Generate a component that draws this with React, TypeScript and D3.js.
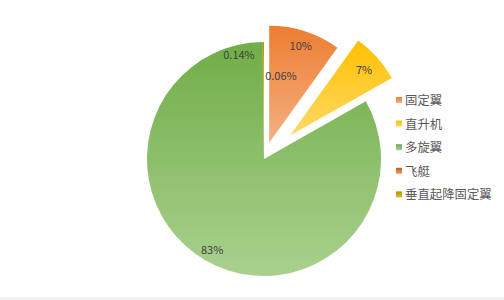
import React from "react";
import * as d3 from "d3";

const categories = ["固定翼", "直升机", "多旋翼", "飞艇", "垂直起降固定翼"];
const values = [9.9, 6.9, 83.0, 0.06, 0.14];
const labels = ["10%", "7%", "83%", "0.06%", "0.14%"];

const colorTop = ["#ED7D31", "#FFC000", "#70AD47", "#C55A11", "#BF9000"];
const colorBottom = ["#F4B183", "#FFD966", "#A9D18E", "#E8A071", "#E0B830"];
const explode = [17, 35, 0, 0, 0];
const labelAngleShift = [0, 0, 0, 0.21, -0.23];
const labelRadiusFactor = [0.88, 0.85, 0.89, 0.73, 0.92];

export default function App() {
  const W = 504, H = 300;
  const cx = 264, cy = 159, r = 117;
  const pie = d3.pie<number>().sort(null).value((d) => d);
  const arcs = pie(values);
  const arcGen = d3.arc<d3.PieArcDatum<number>>().innerRadius(0).outerRadius(r);

  return (
    <svg width={W} height={H} style={{ position: "absolute", left: 0, top: 0 }}
      fontFamily="'Noto Sans CJK SC', 'Noto Sans', sans-serif">
      <defs>
        {categories.map((c, i) => (
          <linearGradient key={c} id={`g${i}`} x1="0" y1="0" x2="0" y2="1">
            <stop offset="0" stopColor={colorTop[i]} />
            <stop offset="1" stopColor={colorBottom[i]} />
          </linearGradient>
        ))}
      </defs>
      <rect x={0} y={0} width={W} height={H} fill="#fff" />
      <rect x={0} y={297} width={W} height={3} fill="#F2F2F2" />
      {arcs.map((a, i) => {
        const mid = (a.startAngle + a.endAngle) / 2;
        const dx = explode[i] * Math.sin(mid);
        const dy = -explode[i] * Math.cos(mid);
        return (
          <path key={i} d={arcGen(a) || ""} transform={`translate(${cx + dx},${cy + dy})`}
            fill={`url(#g${i})`} />
        );
      })}
      {arcs.map((a, i) => {
        const mid = (a.startAngle + a.endAngle) / 2;
        const dx = explode[i] * Math.sin(mid);
        const dy = -explode[i] * Math.cos(mid);
        const ang = mid + labelAngleShift[i];
        const lr = r * labelRadiusFactor[i];
        const x = cx + dx + lr * Math.sin(ang);
        const y = cy + dy - lr * Math.cos(ang);
        return (
          <text key={i} x={x} y={y} textAnchor="middle" dominantBaseline="central"
            fontSize={11} fill="#404040">{labels[i]}</text>
        );
      })}
      {categories.map((c, i) => {
        const y = 100 + i * 23.6;
        return (
          <g key={c}>
            <rect x={396} y={y - 3} width={6} height={6} fill={`url(#g${i})`} />
            <text x={405} y={y} dominantBaseline="central" fontSize={12.4} fill="#595959">{c}</text>
          </g>
        );
      })}
    </svg>
  );
}
